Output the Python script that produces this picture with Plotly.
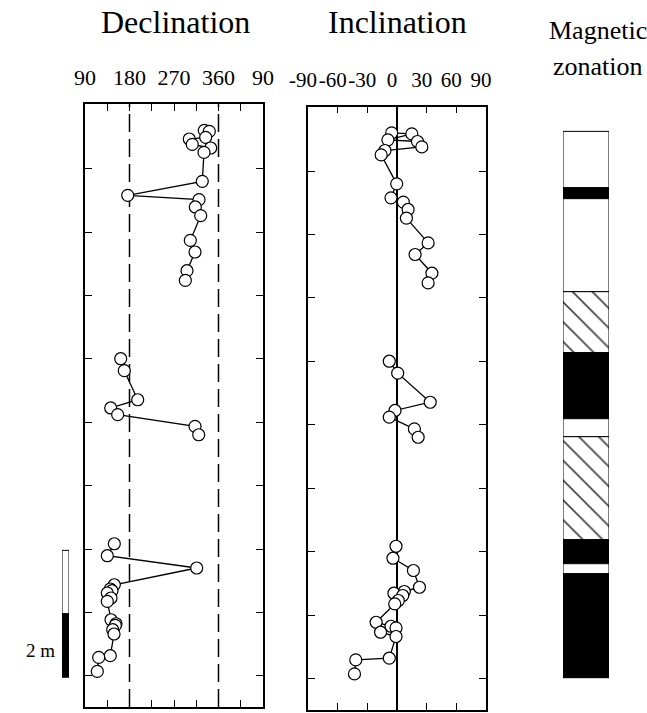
import plotly.graph_objects as go

W, H = 647, 713

# ---------------- data (depth in m, declination / inclination in degrees) ----------------
depth_1 = [0.396, 0.412, 0.506, 0.532, 0.617, 0.674, 0.743, 1.200, 1.421, 1.489, 1.604, 1.741, 2.131, 2.314, 2.609, 2.762]
decl_1 = [331.3, 341.4, 334.1, 300.9, 307.0, 344.2, 330.7, 327.2, 176.4, 320.6, 313.1, 324.0, 303.0, 312.5, 296.3, 292.9]
incl_1 = [-5.4, 15.0, -9.2, 20.7, 25.1, -12.2, -16.0, -0.3, -6.1, 6.4, 11.2, 9.5, 31.5, 18.3, 35.3, 31.5]

depth_2 = [3.997, 4.186, 4.644, 4.774, 4.880, 5.065, 5.196]
decl_2 = [162.2, 169.5, 196.6, 142.0, 156.1, 312.5, 320.0]
incl_2 = [-7.8, 0.7, 33.6, -2.0, -7.8, 17.6, 21.4]

depth_3 = [6.915, 7.104, 7.298, 7.562, 7.629, 7.656, 7.692, 7.771, 7.825, 8.114, 8.177, 8.203, 8.271, 8.339, 8.681, 8.708, 8.929]
decl_3 = [149.3, 135.1, 315.9, 149.3, 141.2, 144.6, 135.1, 142.6, 135.1, 142.6, 152.7, 151.3, 146.0, 148.7, 141.2, 117.7, 114.9]
incl_3 = [-1.0, -4.1, 16.6, 22.7, 7.4, -3.1, 5.8, 1.3, -2.3, -21.1, -6.1, -1.0, -16.6, -1.0, -7.8, -41.7, -43.0]

# magnetic zonation: interval tops / bottoms (m) and polarity (N normal, R reversed, U uncertain)
zone_top = [0.412, 1.300, 1.473, 2.940, 3.902, 4.943, 5.227, 6.852, 7.230, 7.388]
zone_bottom = [1.300, 1.473, 2.940, 3.902, 4.943, 5.227, 6.852, 7.230, 7.388, 9.028]
zone_polarity = ["N", "R", "N", "U", "R", "N", "U", "R", "N", "R"]

# axis ticks
decl_tickvals = [90, 180, 270, 360, 450]
decl_ticktext = ["90", "180", "270", "360", "90"]
decl_minor_ticks = [135, 225, 315, 405]
decl_ref_lines = [180, 360]
incl_tickvals = [-90, -60, -30, 0, 30, 60, 90]
incl_ticktext = ["-90", "-60", "-30", "0", "30", "60", "90"]
depth_ticks = [1, 2, 3, 4, 5, 6, 7, 8, 9]

# scale bar (2 m: 1 m white + 1 m black)
scale_start = 7.02
scale_segments = [1.0, 1.0]
scale_colors = ["white", "black"]

# ---------------------------------------------------------------------------------------
SERIF = "Liberation Serif, Times New Roman, serif"

def join_groups(groups):
    out = []
    for i, g in enumerate(groups):
        if i:
            out.append(None)
        out.extend(g)
    return out

depth_all = join_groups([depth_1, depth_2, depth_3])
decl_all = join_groups([decl_1, decl_2, decl_3])
incl_all = join_groups([incl_1, incl_2, incl_3])

marker = dict(symbol="circle", size=12, color="white", line=dict(color="black", width=1.2))
line = dict(color="black", width=1.3)

fig = go.Figure()
fig.add_trace(go.Scatter(x=decl_all, y=depth_all, mode="lines+markers", marker=marker, line=line,
                         xaxis="x", yaxis="y", connectgaps=False, showlegend=False, hoverinfo="skip"))
fig.add_trace(go.Scatter(x=incl_all, y=depth_all, mode="lines+markers", marker=marker, line=line,
                         xaxis="x2", yaxis="y2", connectgaps=False, showlegend=False, hoverinfo="skip"))

# zonation column
pol_color = {"N": "white", "R": "black", "U": "white"}
pol_shape = {"N": "", "R": "", "U": "\\"}
fig.add_trace(go.Bar(
    x=[0] * len(zone_top), y=[b - t for t, b in zip(zone_top, zone_bottom)], base=zone_top,
    width=1, xaxis="x3", yaxis="y",
    marker=dict(color=[pol_color[p] for p in zone_polarity],
                line=dict(color="black", width=1),
                pattern=dict(shape=[pol_shape[p] for p in zone_polarity], fgcolor="black",
                             fgopacity=1, size=14, solidity=0.12)),
    showlegend=False, hoverinfo="skip"))

# scale bar
scale_bases = [scale_start + sum(scale_segments[:i]) for i in range(len(scale_segments))]
fig.add_trace(go.Bar(
    x=[0] * len(scale_segments), y=scale_segments, base=scale_bases, width=1,
    xaxis="x4", yaxis="y",
    marker=dict(color=scale_colors, line=dict(color="black", width=1)),
    showlegend=False, hoverinfo="skip"))

for v in decl_ref_lines:
    fig.add_shape(type="line", xref="x", yref="y domain", x0=v, x1=v, y0=0, y1=1,
                  line=dict(color="black", width=1.5, dash="18px,7px"), layer="below")

y_common = dict(range=[9.49, -0.02], tickvals=depth_ticks, ticks="inside", ticklen=7,
                tickwidth=1.3, tickcolor="black", showticklabels=False, showline=True,
                linecolor="black", linewidth=1.6, mirror="ticks", showgrid=False, zeroline=False,
                automargin=False)

fig.update_layout(
    width=W, height=H, margin=dict(l=0, r=0, t=0, b=0, autoexpand=False),
    paper_bgcolor="white", plot_bgcolor="white", barmode="overlay",
    font=dict(family=SERIF, color="black"),
    xaxis=dict(domain=[85 / W, 263 / W], range=[90, 450], anchor="y", side="top",
               tickvals=decl_tickvals, ticktext=decl_ticktext, tickangle=0,
               ticks="inside", ticklen=7, tickwidth=1.3, tickcolor="black",
               minor=dict(tickvals=decl_minor_ticks, ticks="inside", ticklen=7, tickwidth=1.3, tickcolor="black"),
               showline=True, linecolor="black", linewidth=1.6, mirror="ticks",
               showgrid=False, zeroline=False, tickfont=dict(size=22, family=SERIF),
               ticklabelstandoff=8, automargin=False),
    yaxis=dict(domain=[1 - 707 / H, 1 - 104 / H], anchor="x", **y_common),
    xaxis2=dict(domain=[308 / W, 486 / W], range=[-90, 90], anchor="y2", side="top",
                tickvals=incl_tickvals, ticktext=incl_ticktext, tickangle=0,
                ticks="inside", ticklen=7, tickwidth=1.3, tickcolor="black",
                showline=True, linecolor="black", linewidth=1.6, mirror="ticks",
                showgrid=False, zeroline=True, zerolinecolor="black", zerolinewidth=1.6,
                tickfont=dict(size=21, family=SERIF), ticklabelstandoff=9, ticklabelshift=-5,
                automargin=False),
    yaxis2=dict(domain=[1 - 709.5 / H, 1 - 106.5 / H], anchor="x2", **y_common),
    xaxis3=dict(domain=[563 / W, 609 / W], range=[-0.5, 0.5], anchor="y", visible=False, automargin=False),
    xaxis4=dict(domain=[62 / W, 69 / W], range=[-0.5, 0.5], anchor="y", visible=False, automargin=False),
)

ann = dict(xref="paper", yref="paper", showarrow=False, xanchor="center", yanchor="middle",
           font=dict(family=SERIF, size=32, color="black"))
fig.add_annotation(text="Declination", x=175 / W, y=1 - 22 / H, **ann)
fig.add_annotation(text="Inclination", x=397 / W, y=1 - 22 / H, **ann)
ann_small = dict(xref="paper", yref="paper", showarrow=False, xanchor="center", yanchor="middle",
                 font=dict(family=SERIF, size=26, color="black"))
fig.add_annotation(text="Magnetic", x=598 / W, y=1 - 31 / H, **ann_small)
fig.add_annotation(text="zonation", x=598 / W, y=1 - 66 / H, **ann_small)
fig.add_annotation(text="2 m", x=40 / W, y=1 - 650 / H, xref="paper", yref="paper", showarrow=False,
                   xanchor="center", yanchor="middle", font=dict(family=SERIF, size=19, color="black"))

fig.write_html("out.html", config={"displayModeBar": False},
               post_script="document.body.style.margin='0px';")
